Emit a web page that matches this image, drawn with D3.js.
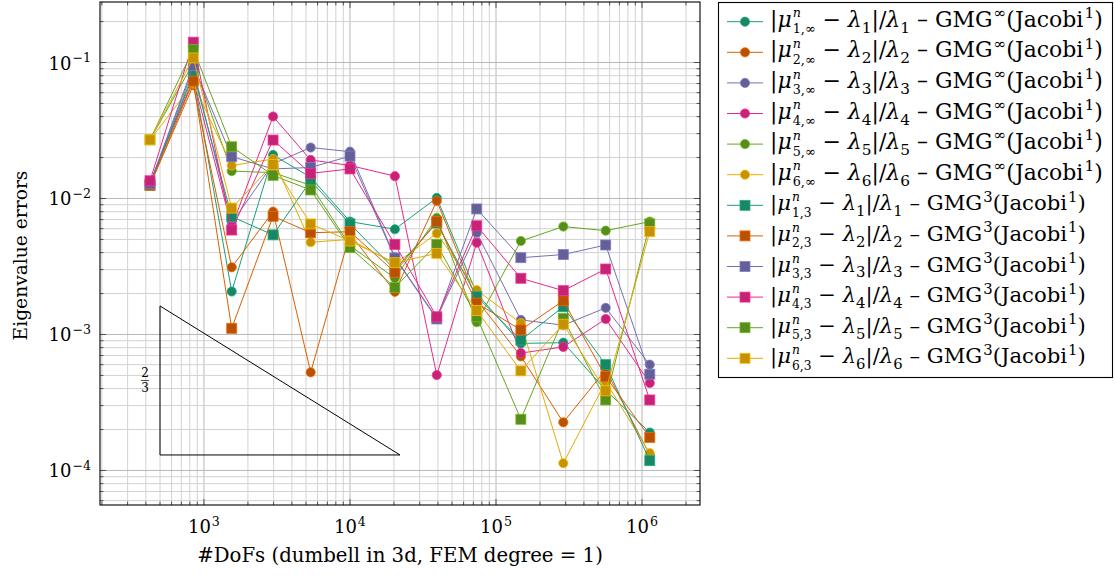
<!DOCTYPE html>
<html><head><meta charset="utf-8">
<script src="https://cdn.jsdelivr.net/npm/d3@7"></script>
<style>body{margin:0;background:#fff} text{white-space:pre}</style>
</head><body><svg id="c" width="1115" height="576"></svg>
<script>
const dofs = [427, 845, 1549, 2973, 5380, 10000, 20300, 39300, 73800, 148000, 289000, 564000, 1130000];
const c1 = [0.013, 0.080, 0.00207, 0.0209, 0.0143, 0.00676, 0.00594, 0.0101, 0.0020, 0.00086, 0.00087, 0.00039, 0.00019];
const c2 = [0.0125, 0.068, 0.00312, 0.0080, 0.000527, 0.0055, 0.00206, 0.0096, 0.0018, 0.00069, 0.000226, 0.00055, 0.00013];
const c3 = [0.0128, 0.090, 0.0066, 0.018, 0.0237, 0.0221, 0.0037, 0.00132, 0.0056, 0.00128, 0.00117, 0.00157, 0.0006];
const c4 = [0.0132, 0.075, 0.0062, 0.0401, 0.0192, 0.0175, 0.0146, 0.000503, 0.00473, 0.00073, 0.00081, 0.0013, 0.00044];
const c5 = [0.027, 0.099, 0.0159, 0.0155, 0.0125, 0.0045, 0.0026, 0.0072, 0.00123, 0.00487, 0.00622, 0.0058, 0.00676];
const c6 = [0.027, 0.070, 0.0175, 0.0195, 0.00477, 0.0050, 0.0033, 0.00554, 0.00212, 0.00121, 0.000113, 0.00045, 0.000134];
const s1 = [0.0125, 0.084, 0.00735, 0.0054, 0.0135, 0.0065, 0.0030, 0.0066, 0.0019, 0.00091, 0.0016, 0.0006, 0.000118];
const s2 = [0.0125, 0.073, 0.00111, 0.0074, 0.0056, 0.0057, 0.00287, 0.00675, 0.0017, 0.00108, 0.00177, 0.00049, 0.000175];
const s3 = [0.0128, 0.095, 0.0203, 0.0165, 0.0169, 0.0205, 0.00365, 0.0013, 0.00838, 0.00367, 0.00387, 0.00455, 0.00051];
const s4 = [0.0135, 0.141, 0.00586, 0.0269, 0.0153, 0.0165, 0.0046, 0.00135, 0.0063, 0.00259, 0.0021, 0.00303, 0.00033];
const s5 = [0.027, 0.125, 0.024, 0.0148, 0.01155, 0.00435, 0.00222, 0.0046, 0.00135, 0.000238, 0.00131, 0.00033, 0.0065];
const s6 = [0.027, 0.108, 0.0085, 0.0178, 0.0065, 0.00487, 0.00337, 0.00395, 0.0015, 0.00054, 0.00119, 0.000385, 0.0057];
const colors = ["#1b9e77", "#d95f02", "#7570b3", "#e7298a", "#66a61e", "#e6ab02"];
const xTicks = [1e3, 1e4, 1e5, 1e6];
const yTicks = [1e-1, 1e-2, 1e-3, 1e-4];
const triX = [500, 22000];
const triYBase = 1.3e-4;
const triSlope = 2/3;
const xDomain = [Math.pow(10, 2.288), Math.pow(10, 6.397)];
const yDomain = [Math.pow(10, -4.254), Math.pow(10, -0.555)];

const series = [
  {v:c1, c:0, m:"circle", idx:"1", inf:true}, {v:c2, c:1, m:"circle", idx:"2", inf:true},
  {v:c3, c:2, m:"circle", idx:"3", inf:true}, {v:c4, c:3, m:"circle", idx:"4", inf:true},
  {v:c5, c:4, m:"circle", idx:"5", inf:true}, {v:c6, c:5, m:"circle", idx:"6", inf:true},
  {v:s1, c:0, m:"square", idx:"1", inf:false}, {v:s2, c:1, m:"square", idx:"2", inf:false},
  {v:s3, c:2, m:"square", idx:"3", inf:false}, {v:s4, c:3, m:"square", idx:"4", inf:false},
  {v:s5, c:4, m:"square", idx:"5", inf:false}, {v:s6, c:5, m:"square", idx:"6", inf:false}
];

const FONT = "DejaVu Serif";
const L = 100, R = 700, T = 2, B = 505;
const svg = d3.select("#c");
const x = d3.scaleLog().domain(xDomain).range([L, R]);
const y = d3.scaleLog().domain(yDomain).range([B, T]);

function txt(g) { return g.append("text").attr("font-family", FONT).attr("fill", "#000").style("white-space", "pre"); }

// rich text helper: measures pieces, then builds ONE text element with positioned tspans
function rich(g, x0, y0, parts, size) {
  let cx = x0, lastStart = x0;
  const placed = [];
  const probe = g.append("g");
  parts.forEach(p => {
    const fs = size * (p.fs || (p.pos ? 0.7 : 1));
    const dy = p.dy !== undefined ? size * p.dy : (p.pos === 1 ? -size * 0.4 : (p.pos === -1 ? size * 0.28 : 0));
    const px = (p.stack ? lastStart : cx) + (p.dx || 0) * size / 20;
    const t = txt(probe).attr("font-size", fs).style("font-style", p.it ? "italic" : "normal").text(p.t);
    const w = t.node().getComputedTextLength();
    placed.push({t: p.t, x: px, y: y0 + dy, fs, it: p.it});
    if (p.stack) cx = Math.max(cx, px + w); else { lastStart = px; cx = px + w; }
  });
  probe.remove();
  const T0 = txt(g).attr("font-size", size);
  placed.forEach(q => {
    T0.append("tspan").attr("x", q.x).attr("y", q.y).attr("font-size", q.fs)
      .style("font-style", q.it ? "italic" : "normal").text(q.t);
  });
  return cx - x0;
}
function fitText(g, x0, y0, parts, target) {
  const probe = g.append("g");
  const w = rich(probe, x0, y0, parts, 20);
  probe.remove();
  const size = 20 * target / w;
  rich(g, x0, y0, parts, size);
  return size;
}

// grid
const gGrid = svg.append("g");
const minorX = [], minorY = [];
for (let e = 2; e <= 6; e++) for (let k = 1; k <= 9; k++) { const v = k * Math.pow(10, e); if (v > xDomain[0] && v < xDomain[1]) minorX.push({v, major: k === 1}); }
for (let e = -5; e <= -1; e++) for (let k = 1; k <= 9; k++) { const v = k * Math.pow(10, e); if (v > yDomain[0] && v < yDomain[1]) minorY.push({v, major: k === 1}); }
gGrid.selectAll(".gx").data(minorX).enter().append("line")
  .attr("x1", d => x(d.v)).attr("x2", d => x(d.v)).attr("y1", T).attr("y2", B)
  .attr("stroke", d => d.major ? "#b8b8b8" : "#d2d2d2").attr("stroke-width", 1);
gGrid.selectAll(".gy").data(minorY).enter().append("line")
  .attr("y1", d => y(d.v)).attr("y2", d => y(d.v)).attr("x1", L).attr("x2", R)
  .attr("stroke", d => d.major ? "#b8b8b8" : "#d2d2d2").attr("stroke-width", 1);

// inner ticks
const gT = svg.append("g").attr("stroke", "#333").attr("stroke-width", 0.8);
minorX.forEach(d => {
  const len = d.major ? 6 : 3.5;
  gT.append("line").attr("x1", x(d.v)).attr("x2", x(d.v)).attr("y1", B).attr("y2", B - len);
  gT.append("line").attr("x1", x(d.v)).attr("x2", x(d.v)).attr("y1", T).attr("y2", T + len);
});
minorY.forEach(d => {
  const len = d.major ? 6 : 3.5;
  gT.append("line").attr("y1", y(d.v)).attr("y2", y(d.v)).attr("x1", L).attr("x2", L + len);
  gT.append("line").attr("y1", y(d.v)).attr("y2", y(d.v)).attr("x1", R).attr("x2", R - len);
});

// triangle
const triY1 = triYBase * Math.pow(triX[1] / triX[0], triSlope);
svg.append("path").attr("d", d3.line()([[x(triX[0]), y(triY1)], [x(triX[0]), y(triYBase)], [x(triX[1]), y(triYBase)], [x(triX[0]), y(triY1)]]))
  .attr("fill", "none").attr("stroke", "#000").attr("stroke-width", 1);
{
  const fx = x(triX[0]) - 15, fy = (y(triY1) + y(triYBase)) / 2;
  txt(svg).attr("x", fx).attr("y", fy - 3).attr("font-size", 12).attr("text-anchor", "middle").text("2");
  svg.append("line").attr("x1", fx - 4).attr("x2", fx + 4).attr("y1", fy).attr("y2", fy).attr("stroke", "#000").attr("stroke-width", 0.7);
  txt(svg).attr("x", fx).attr("y", fy + 12).attr("font-size", 12).attr("text-anchor", "middle").text("3");
}

// series
const gS = svg.append("g");
const line = d3.line().x((d, i) => x(dofs[i])).y(d => y(d));
series.forEach(s => {
  const col = colors[s.c];
  const g = gS.append("g");
  g.append("path").attr("d", line(s.v)).attr("fill", "none").attr("stroke", col).attr("stroke-width", 1);
  const fill = d3.color(col).darker(0.45).formatHex();
  const light = d3.color(col).brighter(0.3).formatHex();
  if (s.m === "circle") {
    g.selectAll("circle").data(s.v).enter().append("circle")
      .attr("cx", (d, i) => x(dofs[i])).attr("cy", d => y(d)).attr("r", 4.6)
      .attr("fill", fill).attr("stroke", light).attr("stroke-width", 0.8);
  } else {
    g.selectAll("rect").data(s.v).enter().append("rect")
      .attr("x", (d, i) => x(dofs[i]) - 5).attr("y", d => y(d) - 5).attr("width", 10).attr("height", 10)
      .attr("fill", fill).attr("stroke", light).attr("stroke-width", 0.8);
  }
});

// frame
svg.append("rect").attr("x", L).attr("y", T).attr("width", R - L).attr("height", B - T)
  .attr("fill", "none").attr("stroke", "#000").attr("stroke-width", 1.1);

// tick labels
const supMap = {"-1": "−1", "-2": "−2", "-3": "−3", "-4": "−4"};
xTicks.forEach(v => {
  const e = Math.round(Math.log10(v));
  const g = svg.append("g");
  const w = rich(g, 0, 0, [{t: "10"}, {t: String(e), pos: 1, dx: 1}], 18);
  g.attr("transform", `translate(${x(v) - w / 2},533)`);
});
yTicks.forEach(v => {
  const e = Math.round(Math.log10(v));
  const g = svg.append("g");
  const w = rich(g, 0, 0, [{t: "10"}, {t: supMap[String(e)], pos: 1, dx: 1}], 18);
  g.attr("transform", `translate(${91 - w},${y(v) + 7})`);
});

// axis labels
{
  const t = txt(svg).attr("x", (L + R) / 2).attr("y", 562).attr("text-anchor", "middle").attr("font-size", 18)
    .text("#DoFs (dumbell in 3d, FEM degree = 1)");
  const w = t.node().getComputedTextLength();
  t.attr("font-size", 18 * 406 / w);
  const t2 = txt(svg).attr("transform", `translate(27,${(T + B) / 2 + 2}) rotate(-90)`).attr("text-anchor", "middle").attr("font-size", 18)
    .text("Eigenvalue errors");
  const w2 = t2.node().getComputedTextLength();
  t2.attr("font-size", 18 * 170 / w2);
}

// legend
const lg = svg.append("g");
lg.append("rect").attr("x", 718.5).attr("y", 2.5).attr("width", 394).attr("height", 375).attr("fill", "#fff").attr("stroke", "#000").attr("stroke-width", 1.1);
series.forEach((s, i) => {
  const cy = 21.7 + i * 30.6;
  const col = colors[s.c];
  const fill = d3.color(col).darker(0.45).formatHex();
  const light = d3.color(col).brighter(0.3).formatHex();
  lg.append("line").attr("x1", 727).attr("x2", 763).attr("y1", cy).attr("y2", cy).attr("stroke", col).attr("stroke-width", 1);
  if (s.m === "circle") lg.append("circle").attr("cx", 745).attr("cy", cy).attr("r", 4.6).attr("fill", fill).attr("stroke", light).attr("stroke-width", 0.8);
  else lg.append("rect").attr("x", 740).attr("y", cy - 5).attr("width", 10).attr("height", 10).attr("fill", fill).attr("stroke", light).attr("stroke-width", 0.8);
  const k = s.idx;
  const parts = [
    {t: "|"}, {t: "μ", it: true}, {t: "n", it: true, pos: 1, dx: 1, fs: 0.58, dy: -0.42},
    {t: s.inf ? k + ",∞" : k + ",3", pos: -1, stack: true, fs: 0.58, dy: 0.30},
    {t: " − "}, {t: "λ", it: true}, {t: k, pos: -1}, {t: "|/"}, {t: "λ", it: true}, {t: k, pos: -1},
    {t: " – GMG"}, {t: s.inf ? "∞" : "3", pos: 1, dx: 1}, {t: "(Jacobi"}, {t: "1", pos: 1, dx: 1}, {t: ")"}
  ];
  fitText(lg.append("g"), 770, cy + 5, parts, s.inf ? 333 : 316);
});
</script></body></html>
